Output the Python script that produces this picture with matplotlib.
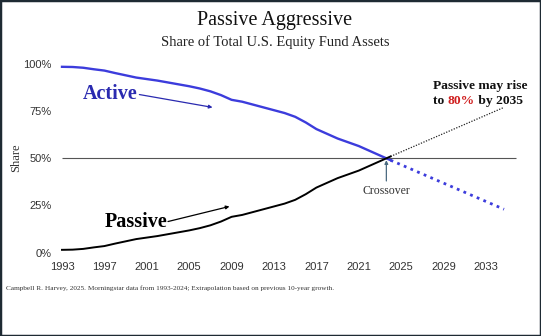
import matplotlib
matplotlib.use("Agg")
import matplotlib.pyplot as plt
from matplotlib.patches import Rectangle

years = list(range(1993, 2025))
passive = [1.5, 1.6, 2.0, 2.8, 3.5, 4.8, 6.0, 7.2, 8.0, 8.8, 9.8, 10.8, 11.8, 13.0,
           14.5, 16.5, 19.0, 20.0, 21.5, 23.0, 24.5, 26.0, 28.0, 31.0, 34.5, 37.0,
           39.5, 41.5, 43.5, 46.0, 48.5, 51.0]
active = [98.5, 98.4, 98.0, 97.2, 96.5, 95.2, 94.0, 92.8, 92.0, 91.2, 90.2, 89.2,
          88.2, 87.0, 85.5, 83.5, 81.0, 80.0, 78.5, 77.0, 75.5, 74.0, 72.0, 69.0,
          65.5, 63.0, 60.5, 58.5, 56.5, 54.0, 51.5, 49.0]
proj_years = [2024, 2034.7]
passive_proj = [51.0, 77.0]
active_proj = [49.0, 23.0]
xticks = list(range(1993, 2035, 4))
yticks = [0, 25, 50, 75, 100]
ytick_labels = ["0%", "25%", "50%", "75%", "100%"]

serif = ["Liberation Serif", "DejaVu Serif"]
sans = ["Liberation Sans", "DejaVu Sans"]

fig = plt.figure(figsize=(5.41, 3.36), dpi=100)
fig.patch.set_facecolor("white")
ax = fig.add_axes([0.095, 0.248, 0.8817, 0.5616])
ax.set_xlim(1992, 2037)
ax.set_ylim(0, 100)
for s in ax.spines.values():
    s.set_visible(False)

blue = "#3c3cdc"
ax.hlines(50, 1993, 2035.8, color="#555555", lw=0.8, zorder=1)
ax.plot(years, active, color=blue, lw=1.7, clip_on=False, zorder=3)
ax.plot(years, passive, color="black", lw=1.4, clip_on=False, zorder=3)
ax.plot(proj_years, active_proj, color=blue, lw=2.0, ls=(0, (1, 1.6)), zorder=2)
ax.plot(proj_years, passive_proj, color="#222222", lw=0.9, ls=(0, (1, 1.2)), zorder=2)

ax.set_xticks(xticks)
ax.set_xticklabels([str(x) for x in xticks], fontfamily=sans, fontsize=8, color="#333333")
ax.set_yticks(yticks)
ax.set_yticklabels(ytick_labels, fontfamily=sans, fontsize=8, color="#333333")
ax.tick_params(axis="both", length=0)
ax.tick_params(axis="x", pad=7)
ax.tick_params(axis="y", pad=0)

fig.text(0.03, 0.53, "Share", rotation=90, ha="center", va="center",
         family=serif, fontsize=9, color="#333333")

fig.text(0.508, 0.94, "Passive Aggressive", ha="center", va="center",
         family=serif, fontsize=14.5, color="#111111")
fig.text(0.508, 0.875, "Share of Total U.S. Equity Fund Assets", ha="center", va="center",
         family=serif, fontsize=10.5, color="#222222")

ax.text(1995.0, 84.0, "Active", family=serif, fontsize=14.5, fontweight="bold",
        color="#2a2ab0", va="center", ha="left")
ax.annotate("", xy=(2007.2, 77.0), xytext=(2000.3, 83.8),
            arrowprops=dict(arrowstyle="-|>", color="#2a2ab0", lw=0.9,
                            mutation_scale=5, shrinkA=0, shrinkB=0))
ax.text(1997.0, 16.0, "Passive", family=serif, fontsize=14.5, fontweight="bold",
        color="black", va="center", ha="left")
ax.annotate("", xy=(2008.8, 24.5), xytext=(2003.0, 16.5),
            arrowprops=dict(arrowstyle="-|>", color="black", lw=0.9,
                            mutation_scale=5, shrinkA=0, shrinkB=0))

ax.annotate("", xy=(2023.6, 49.0), xytext=(2023.6, 38.0),
            arrowprops=dict(arrowstyle="-|>", color="#4a6a80", lw=0.9,
                            mutation_scale=5, shrinkA=0, shrinkB=0))
ax.text(2023.6, 32.5, "Crossover", family=serif, fontsize=8.5, color="#333333",
        ha="center", va="center")

t1 = ax.text(2028.0, 88.3, "Passive may rise", family=serif, fontsize=9.7,
             fontweight="bold", color="#111111", ha="left", va="center")
t2 = ax.text(2028.0, 80.4, "to ", family=serif, fontsize=9.7,
             fontweight="bold", color="#111111", ha="left", va="center")
t3 = ax.annotate("80%", xy=(1, 0), xycoords=t2, va="bottom", ha="left",
                 family=serif, fontsize=9.7, fontweight="bold", color="#d02020")
ax.annotate(" by 2035", xy=(1, 0), xycoords=t3, va="bottom", ha="left",
            family=serif, fontsize=9.7, fontweight="bold", color="#111111")

fig.text(0.011, 0.143,
         "Campbell R. Harvey, 2025. Morningstar data from 1993-2024; Extrapolation based on previous 10-year growth.",
         family=serif, fontsize=5.2, color="#333333", ha="left", va="center")

fig.patches.append(Rectangle((0, 0), 1, 1, transform=fig.transFigure, fill=False,
                             edgecolor="#1e2a33", lw=2.5, zorder=10))

fig.savefig("out.png", dpi=100, facecolor="white")
